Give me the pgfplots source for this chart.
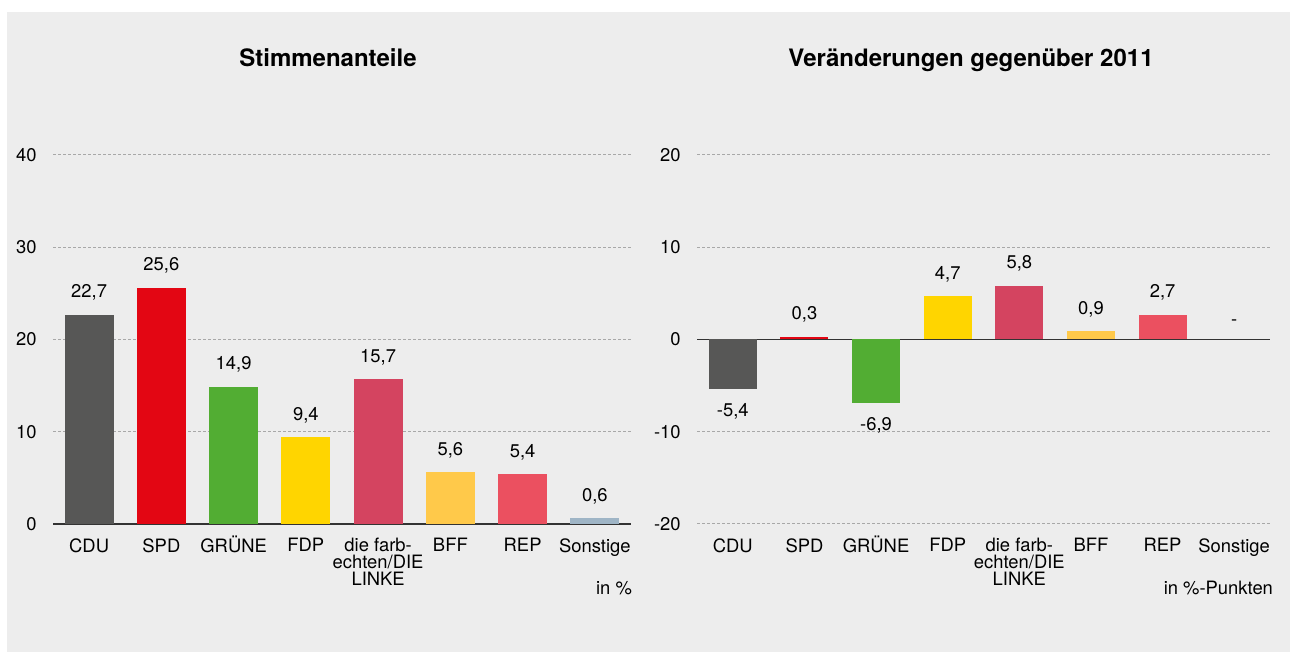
\documentclass[border=0pt]{standalone}
\usepackage{fontspec}
\setmainfont{TeX Gyre Heros}
\usepackage{pgfplots}
\pgfplotsset{compat=1.18}

\definecolor{panel}{HTML}{EDEDED}
\definecolor{gridc}{HTML}{A8A8A8}
\definecolor{cdu}{HTML}{575756}
\definecolor{spd}{HTML}{E30613}
\definecolor{gruene}{HTML}{52AD33}
\definecolor{fdp}{HTML}{FFD500}
\definecolor{linke}{HTML}{D44460}
\definecolor{bff}{HTML}{FFC94A}
\definecolor{rep}{HTML}{EB5060}
\definecolor{sonst}{HTML}{9FB5C6}

\newcommand{\lbl}{\fontsize{9.2}{10}\selectfont}

\pgfplotsset{
  wahl/.style={
    scale only axis,
    height=184.5pt,
    xmin=-0.5, xmax=7.5,
    ybar,
    every axis plot/.append style={bar shift=0pt, draw=none},
    axis line style={draw=none},
    major tick length=0pt,
    xtick={0,...,7},
    xticklabels={CDU,SPD,{GR\smash{Ü}NE},FDP,{die farb-\\echten/DIE\\LINKE},BFF,REP,Sonstige},
    xticklabel style={font=\fontsize{9.2}{8.3}\selectfont, align=center, inner sep=0pt, yshift=-7pt},
    yticklabel style={font=\lbl, inner sep=0pt, xshift=-8pt},
    /pgf/number format/assume math mode=true,
    ymajorgrids,
    grid style={gridc, line width=0.5pt, dash pattern=on 1.5pt off 1pt},
    extra y ticks={0},
    extra y tick labels={},
    extra y tick style={grid style={solid, black!80, line width=0.8pt}},
    nodes near coords={\pgfmathprintnumber[use comma,fixed,fixed zerofill,precision=1]{\pgfplotspointmeta}},
    every node near coord/.append style={font=\lbl, text=black, inner sep=7pt},
    clip=false
  }
}

\begin{document}
\begin{tikzpicture}
  \fill[white] (0,0) rectangle (645pt,326pt);
  \fill[panel] (3.5pt,0) rectangle (645pt,320pt);

  \node[anchor=base, font=\bfseries\fontsize{12}{14}\selectfont] at (164pt,292.75pt) {Stimmenanteile};
  \node[anchor=base, font=\bfseries\fontsize{12}{14}\selectfont] at (485.5pt,292.75pt) {Veränderungen gegenüber 2011};

  % Stimmenanteile in %
  \begin{axis}[
    wahl,
    at={(26.5pt,64pt)}, anchor=south west,
    width=289pt,
    bar width=24.5pt,
    ymin=0, ymax=40,
    ytick={0,10,20,30,40}
  ]
    \addplot[fill=cdu]    coordinates {(0,22.7)};
    \addplot[fill=spd]    coordinates {(1,25.6)};
    \addplot[fill=gruene] coordinates {(2,14.9)};
    \addplot[fill=fdp]    coordinates {(3,9.4)};
    \addplot[fill=linke]  coordinates {(4,15.7)};
    \addplot[fill=bff]    coordinates {(5,5.6)};
    \addplot[fill=rep]    coordinates {(6,5.4)};
    \addplot[fill=sonst]  coordinates {(7,0.6)};
  \end{axis}

  % Veraenderungen in Prozentpunkten
  \begin{axis}[
    wahl,
    at={(348.5pt,64pt)}, anchor=south west,
    width=286.5pt,
    bar width=24pt,
    ymin=-20, ymax=20,
    ytick={-20,-10,0,10,20}
  ]
    \addplot[fill=cdu]    coordinates {(0,-5.4)};
    \addplot[fill=spd]    coordinates {(1,0.3)};
    \addplot[fill=gruene] coordinates {(2,-6.9)};
    \addplot[fill=fdp]    coordinates {(3,4.7)};
    \addplot[fill=linke]  coordinates {(4,5.8)};
    \addplot[fill=bff]    coordinates {(5,0.9)};
    \addplot[fill=rep]    coordinates {(6,2.7)};
    \addplot[fill=none, nodes near coords={-}] coordinates {(7,0)};
  \end{axis}

  \node[anchor=base east, font=\lbl] at (319.5pt,28.5pt) {in \%};
  \node[anchor=base east, font=\lbl] at (640pt,28.5pt) {in \%-Punkten};
\end{tikzpicture}
\end{document}
